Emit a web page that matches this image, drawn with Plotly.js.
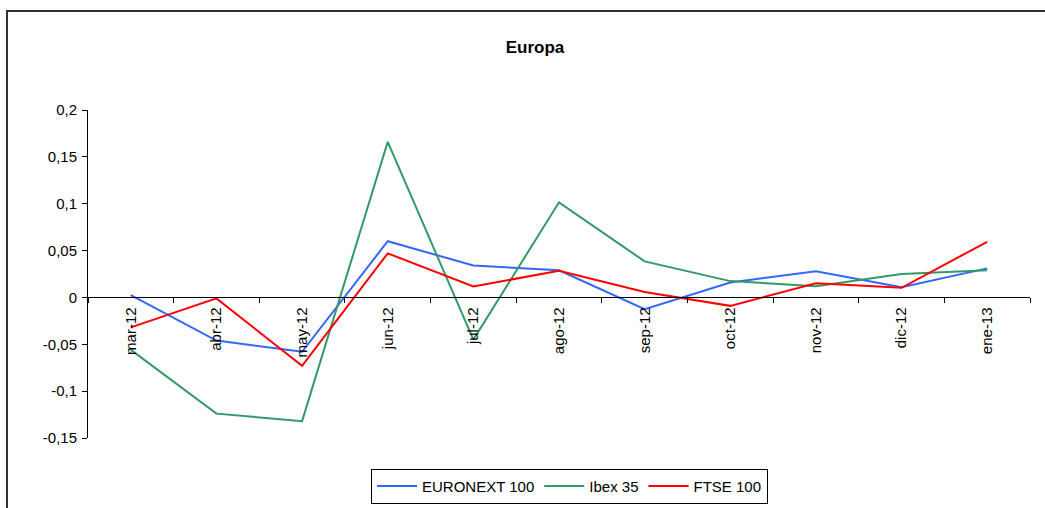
<!DOCTYPE html>
<html>
<head>
<meta charset="utf-8">
<script src="https://cdn.plot.ly/plotly-3.0.1.min.js"></script>
<style>
  html, body { margin: 0; padding: 0; background: #fff; }
  #wrap { position: relative; width: 1045px; height: 508px; overflow: hidden; }
  #chart { width: 1045px; height: 508px; }
  #frame { position: absolute; left: 6px; top: 10px; width: 1200px; height: 700px;
           border-top: 2px solid #333; border-left: 2px solid #333; pointer-events: none; }
</style>
</head>
<body>
<div id="wrap">
  <div id="chart"></div>
  <div id="frame"></div>
</div>
<script>
const months = ["mar-12","abr-12","may-12","jun-12","jul-12","ago-12","sep-12","oct-12","nov-12","dic-12","ene-13"];
const euronext = [0.0025, -0.046, -0.058, 0.060, 0.034, 0.029, -0.0125, 0.016, 0.028, 0.011, 0.031];
const ibex = [-0.056, -0.124, -0.132, 0.166, -0.045, 0.1015, 0.0385, 0.0174, 0.012, 0.025, 0.029];
const ftse = [-0.032, -0.001, -0.073, 0.047, 0.0117, 0.0284, 0.0057, -0.009, 0.015, 0.0103, 0.0594];
const yTickVals = [-0.15, -0.1, -0.05, 0, 0.05, 0.1, 0.15, 0.2];
const yTickText = ["-0,15", "-0,1", "-0,05", "0", "0,05", "0,1", "0,15", "0,2"];

const font = "Arial, 'Liberation Sans', sans-serif";
const traces = [
  { x: months, y: euronext, name: "EURONEXT 100", type: "scatter", mode: "lines",
    line: { color: "#3366FF", width: 2 } },
  { x: months, y: ibex, name: "Ibex 35", type: "scatter", mode: "lines",
    line: { color: "#339966", width: 2 } },
  { x: months, y: ftse, name: "FTSE 100", type: "scatter", mode: "lines",
    line: { color: "#FF0000", width: 2 } }
];
const yMin = -0.15, yMax = 0.2;
const layout = {
  width: 1045, height: 508,
  margin: { l: 88, r: 15, t: 110, b: 70 },
  paper_bgcolor: "#fff", plot_bgcolor: "#fff",
  font: { family: font, size: 15, color: "#000" },
  title: { text: "<b>Europa</b>", x: 0.512, xref: "container", y: 0.908, yref: "container",
           xanchor: "center", yanchor: "middle", font: { family: font, size: 17, color: "#000" } },
  showlegend: true,
  legend: { orientation: "h", x: 0.545, xref: "container", xanchor: "center",
            y: 0.043, yref: "container", yanchor: "middle",
            bordercolor: "#000", borderwidth: 1, bgcolor: "#fff",
            font: { family: font, size: 15, color: "#000" }, itemwidth: 40, traceorder: "normal" },
  xaxis: {
    type: "category", anchor: "free", position: (0 - yMin) / (yMax - yMin),
    showline: true, linecolor: "#000", linewidth: 1,
    ticks: "outside", tickson: "boundaries", ticklen: 5, tickcolor: "#000",
    tickangle: -90, showgrid: false, zeroline: false, ticklabelstandoff: 3,
    tickfont: { family: font, size: 15, color: "#000" },
    range: [-0.5, months.length - 0.5], fixedrange: true
  },
  yaxis: {
    range: [yMin, yMax], tickvals: yTickVals, ticktext: yTickText,
    showline: true, linecolor: "#000", linewidth: 1,
    ticks: "outside", ticklen: 5, tickcolor: "#000", ticklabelstandoff: 2,
    showgrid: false, zeroline: false,
    tickfont: { family: font, size: 15, color: "#000" }
  }
};
Plotly.newPlot("chart", traces, layout, { displayModeBar: false, staticPlot: true });
</script>
</body>
</html>
